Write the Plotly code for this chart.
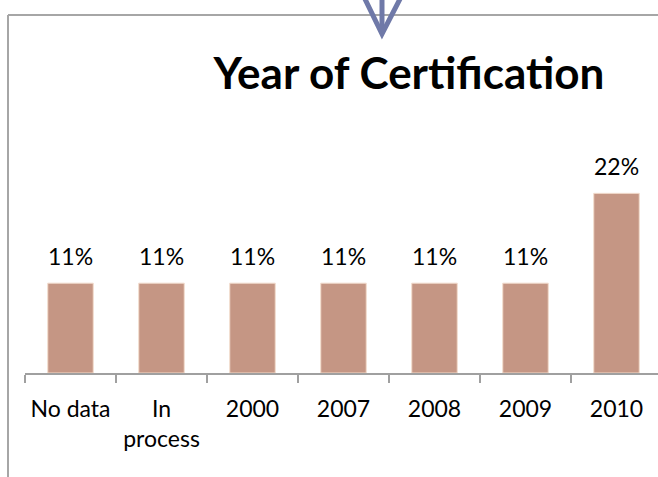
import plotly.graph_objects as go

# Datos del gráfico
categorias = ["No data", "In<br>process", "2000", "2007", "2008", "2009", "2010"]
porcentajes = [0.11, 0.11, 0.11, 0.11, 0.11, 0.11, 0.22]
etiquetas = ["11%", "11%", "11%", "11%", "11%", "11%", "22%"]

W, H = 658, 477
M_L, M_R, M_T, M_B = 25, 0, 128, 104
FUENTE = "Lato"


def px_a_paper(x, y):
    # convierte píxeles de la figura a coordenadas "paper"
    ancho = W - M_L - M_R
    alto = H - M_T - M_B
    return (x - M_L) / ancho, (H - M_B - y) / alto


fig = go.Figure()

fig.add_trace(
    go.Bar(
        x=categorias,
        y=porcentajes,
        width=0.5,
        marker=dict(color="#C59684", line=dict(color="#F2DCCD", width=1)),
        hoverinfo="skip",
    )
)

# Etiquetas de valor encima de cada barra (x por índice de categoría:
# "2000" etc. se leerían como número si se pasan como texto)
for i, (v, t) in enumerate(zip(porcentajes, etiquetas)):
    fig.add_annotation(
        x=i, y=v, text=t, showarrow=False, yanchor="middle", yshift=27,
        font=dict(family=FUENTE, size=23, color="black"),
    )

# Marco gris (borde del gráfico original)
x0, y0 = px_a_paper(8, 15)
x1, y1 = px_a_paper(W + 5, H + 5)
fig.add_shape(type="line", xref="paper", yref="paper", x0=x0, y0=y0, x1=x0, y1=y1,
              line=dict(color="#A6A6A6", width=2))
fig.add_shape(type="line", xref="paper", yref="paper", x0=x0, y0=y0, x1=x1, y1=y0,
              line=dict(color="#A6A6A6", width=2))

# Flecha azul que entra desde arriba
ax_l, ay_t = px_a_paper(364, -3)
ax_r, _ = px_a_paper(401, -3)
ax_c, ay_tip = px_a_paper(382, 34)
_, ay_sh = px_a_paper(382, 30)
fig.add_shape(type="line", xref="paper", yref="paper", x0=ax_c, y0=ay_t, x1=ax_c, y1=ay_sh,
              line=dict(color="#6F79A8", width=5))
fig.add_shape(type="path", xref="paper", yref="paper",
              path=f"M {ax_l} {ay_t} L {ax_c} {ay_tip} L {ax_r} {ay_t}",
              line=dict(color="#6F79A8", width=5))

fig.update_layout(
    width=W,
    height=H,
    margin=dict(l=M_L, r=M_R, t=M_T, b=M_B),
    paper_bgcolor="white",
    plot_bgcolor="white",
    showlegend=False,
    title=dict(
        text="<b>Year of Certification</b>",
        x=409 / W, xref="container", xanchor="center",
        y=1 - 74 / H, yref="container", yanchor="middle",
        font=dict(family=FUENTE, size=44, color="black"),
    ),
    font=dict(family=FUENTE, size=23, color="black"),
    xaxis=dict(
        type="category",
        range=[-0.5, 6.456],
        showline=True,
        linecolor="#A0A0A0",
        linewidth=1.5,
        ticks="outside",
        tickson="boundaries",
        ticklen=8,
        tickcolor="#A0A0A0",
        tickwidth=1.5,
        showgrid=False,
        zeroline=False,
        ticklabelstandoff=15,
        tickfont=dict(family=FUENTE, size=23, color="black"),
    ),
    yaxis=dict(range=[0, 0.30], visible=False),
)

# quitamos el margen por defecto del <body> para que la figura quede pegada a la esquina
fig.write_html(
    "out.html",
    config={"displayModeBar": False},
    post_script="document.body.style.margin='0';",
)
